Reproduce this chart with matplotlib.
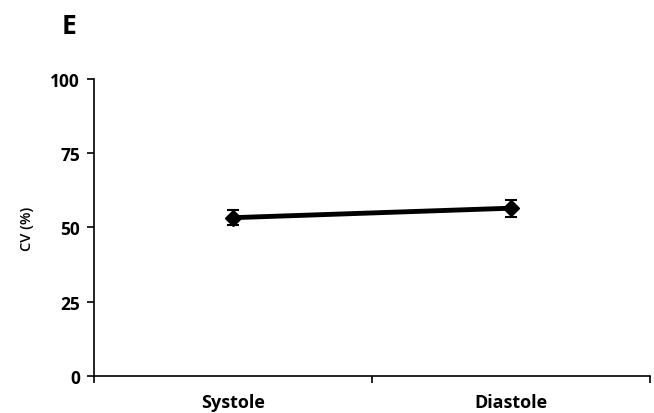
import matplotlib
matplotlib.use('Agg')
import matplotlib.pyplot as plt

categories = ['Systole', 'Diastole']
cv_mean = [53.3, 56.5]
cv_err = [2.6, 2.9]
y_ticks = [0, 25, 50, 75, 100]

plt.rcParams['font.family'] = ['Open Sans', 'DejaVu Sans']

fig = plt.figure(figsize=(6.54, 4.14), dpi=100)
ax = fig.add_axes([0.1437, 0.0894, 0.8503, 0.7174])

x = list(range(len(categories)))
ax.errorbar(x, cv_mean, yerr=cv_err, color='black', linewidth=3.5,
            marker='D', markersize=8, elinewidth=1.5, capsize=4, capthick=1.5)

ax.set_xlim(-0.5, len(categories) - 0.5)
ax.set_ylim(0, 100)
ax.set_yticks(y_ticks)
ax.set_yticklabels([str(v) for v in y_ticks], fontweight='bold', fontsize=12.5)
ax.set_xticks(x)
ax.set_xticklabels(categories, fontweight='bold', fontsize=13)
ax.tick_params(axis='x', length=0, pad=12)
ax.set_xticks([-0.5, 0.5, 1.5], minor=True)
ax.tick_params(axis='x', which='minor', length=5, width=1.2, direction='out')
ax.tick_params(axis='y', length=5, width=1.2, direction='out', pad=5)

for side in ['top', 'right']:
    ax.spines[side].set_visible(False)
for side in ['left', 'bottom']:
    ax.spines[side].set_linewidth(1.2)

ax.set_ylabel('CV (%)', fontsize=10.5, fontweight='semibold', labelpad=12)
fig.text(0.106, 0.935, 'E', fontsize=19, fontweight='bold', ha='center', va='center')

fig.savefig('out.png', dpi=100)
